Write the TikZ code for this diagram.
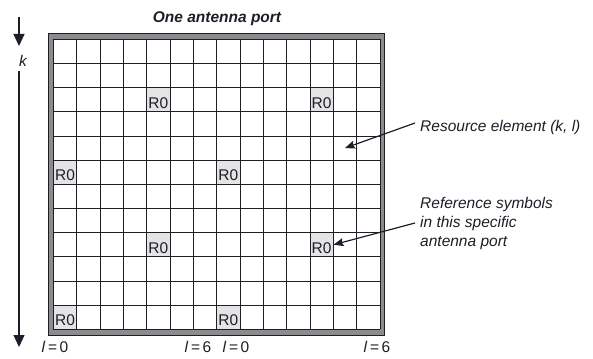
\documentclass[tikz,border=0pt]{standalone}
\usepackage{fontspec}
\setmainfont{Liberation Sans}
\usetikzlibrary{arrows.meta,positioning,calc}
\definecolor{ink}{RGB}{30,30,40}
\definecolor{rim}{RGB}{140,140,140}
\definecolor{rsfill}{RGB}{228,228,228}

\begin{document}
\begin{tikzpicture}[x=1pt, y=-1pt,
  txt/.style={text=ink, font=\fontsize{15.5}{19}\selectfont, inner sep=2pt},
  refsym/.style={txt, fill=rsfill, minimum width=23.33pt, minimum height=24.17pt, inner sep=0pt, text height=17pt, text depth=0pt},
  gridline/.style={draw=ink, line width=0.8pt},
  note/.style={-{Stealth[length=10pt, width=8pt, inset=1.5pt]}, draw=ink, line width=1.2pt},
  axis/.style={-{Triangle[length=12pt, width=11pt]}, draw=ink, line width=1.2pt}]
\useasboundingbox (0,0) rectangle (593,358);
% frame round the resource grid
\draw[draw=ink, fill=rim, line width=0.8pt] (48.5,33.7) rectangle (384,335);
\fill[white] (53.3,39.3) rectangle (380,329.3);
\node[txt, font=\fontsize{15.5}{19}\selectfont\bfseries\itshape] (title) at (217,19) {One antenna port};
% reference symbols of port 0
\foreach \r/\c in {2/4,2/11,5/0,5/7,8/4,8/11,11/0,11/7}
  \node[refsym] (r\r-\c) at ({53.3+(\c+0.5)*23.33},{39.3+(\r+0.5)*24.17}) {R0};
\foreach \i in {0,...,14}
  \draw[gridline] ({53.3+\i*23.33},39.3) -- ({53.3+\i*23.33},329.3);
\foreach \j in {0,...,12}
  \draw[gridline] (53.3,{39.3+\j*24.17}) -- (380,{39.3+\j*24.17});
% subcarrier axis
\node[txt, font=\fontsize{15.5}{19}\selectfont\itshape] (k) at (23,61) {k};
\coordinate (ktop) at (19,17);
\coordinate (kjoin) at (19,46);
\coordinate (kmid) at (19,71);
\coordinate (kend) at (19,347);
\draw[axis] (ktop) -- (kjoin);
\draw[axis] (kmid) -- (kend);
% symbol indices
\node[txt] (l0a) at (55,347) {\textit{l}\,=\,0};
\node[txt] (l6a) at (198,347) {\textit{l}\,=\,6};
\node[txt] (l0b) at (236,347) {\textit{l}\,=\,0};
\node[txt] (l6b) at (377,347) {\textit{l}\,=\,6};
% annotations
\coordinate (re) at ({53.3+12.5*23.33},{39.3+4.5*24.17});
\node[txt, font=\fontsize{15.5}{19}\selectfont\itshape, anchor=west] (relab) at (418,127) {Resource element (k, l)};
\node[txt, font=\fontsize{15.5}{19}\selectfont\itshape, anchor=west, align=left] (rslab) at (418,223) {Reference symbols\\in this specific\\antenna port};
\draw[note] ([shift={(-3pt,4pt)}]relab.west) -- (re);
\draw[note] ([xshift=-3pt]rslab.west) -- (r8-11.east);
\end{tikzpicture}
\end{document}
